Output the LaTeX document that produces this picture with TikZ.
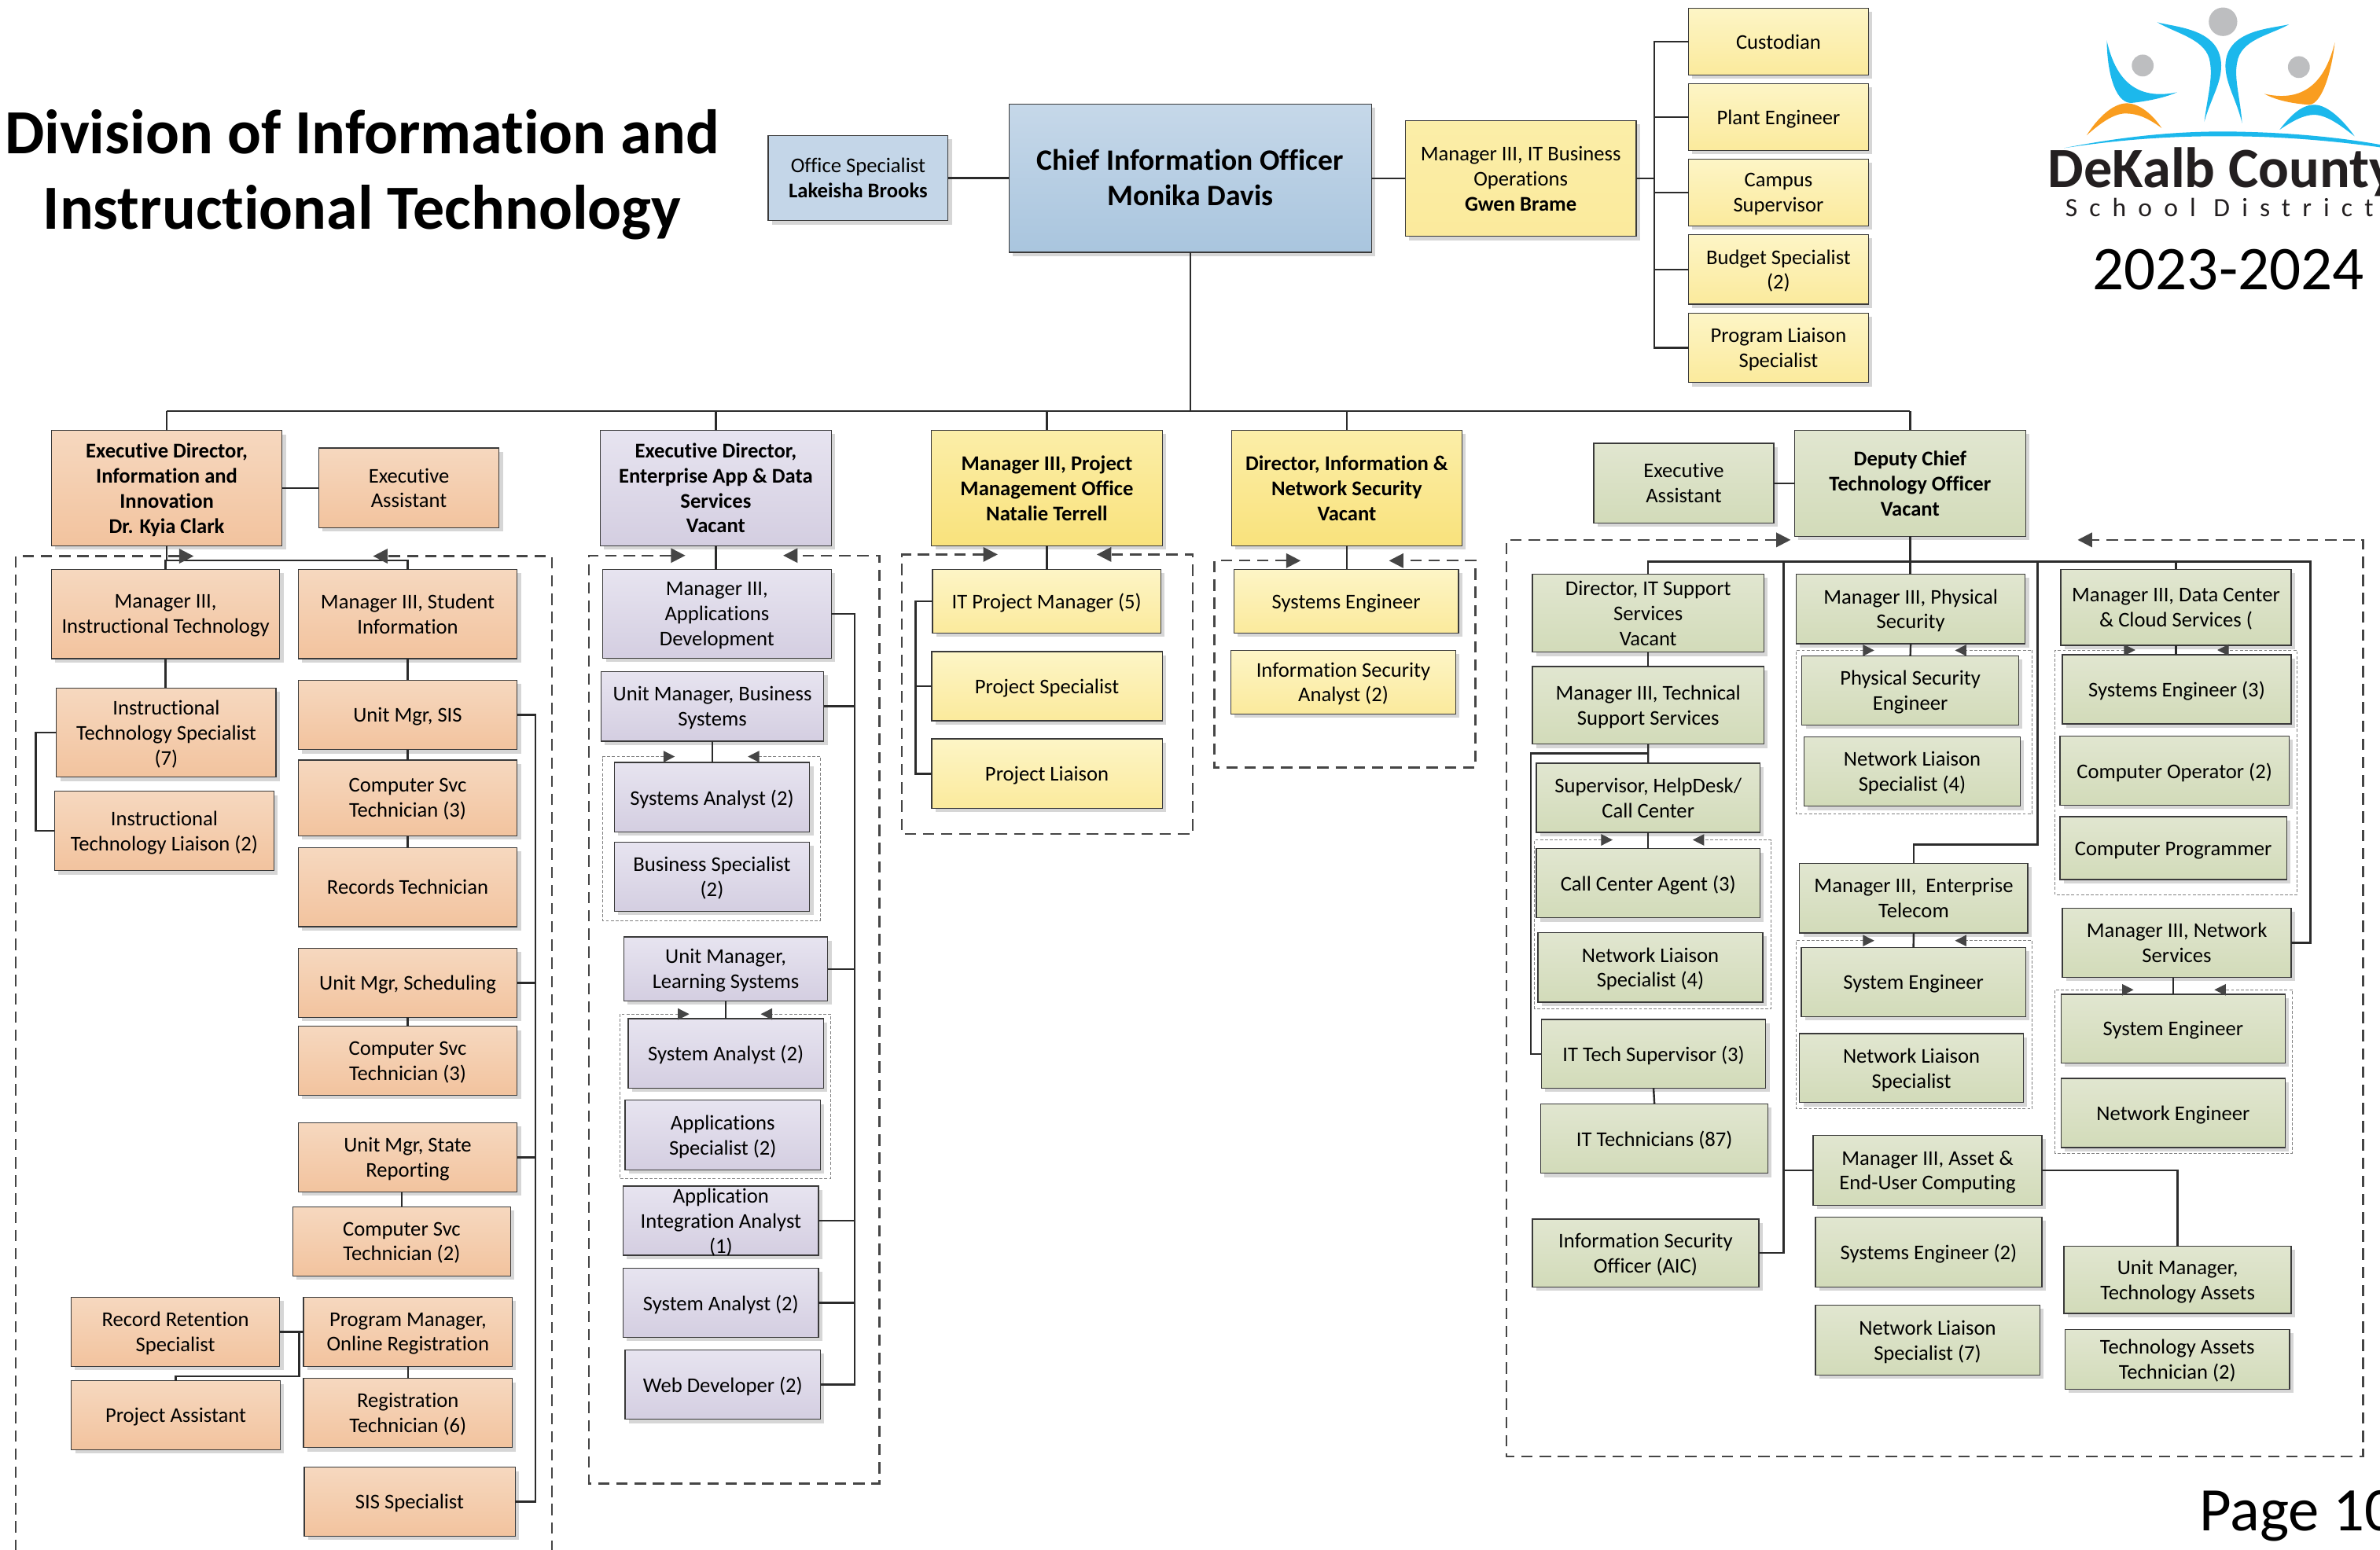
\documentclass[tikz,border=0pt]{standalone}
\usepackage{fontspec}
\setmainfont[Ligatures=NoCommon]{Carlito}
\newfontfamily\spacedfont[LetterSpace=45]{Carlito}
\usetikzlibrary{arrows.meta,shadows}

\definecolor{tantop}{HTML}{F6D8BF}
\definecolor{tanbot}{HTML}{F2C39E}
\definecolor{purpletop}{HTML}{E7E4F0}
\definecolor{purplebot}{HTML}{D4CEE1}
\definecolor{paletop}{HTML}{FDF5C6}
\definecolor{palebot}{HTML}{FBEA9C}
\definecolor{goldtop}{HTML}{FBEEA8}
\definecolor{goldbot}{HTML}{F9E27C}
\definecolor{greentop}{HTML}{E1E6D0}
\definecolor{greenbot}{HTML}{D2DBB9}
\definecolor{bluetop}{HTML}{C6D8E9}
\definecolor{bluebot}{HTML}{A9C5DE}
\definecolor{officeblue}{HTML}{C4D6E8}
\definecolor{edgegray}{HTML}{3A3A3A}
\definecolor{linegray}{HTML}{2B2B2B}
\definecolor{framegray}{HTML}{454545}
\definecolor{logoblue}{HTML}{1CB8EC}
\definecolor{logoorange}{HTML}{F99D1F}
\definecolor{logogray}{HTML}{BDBEC0}
\definecolor{logoink}{HTML}{231F20}

\newcommand{\boxfont}{\fontsize{13.8}{16.5}\selectfont}

\tikzset{
    orgbox/.style={draw=edgegray, line width=.7pt, anchor=north west, inner sep=0pt, outer sep=0pt,
        align=center, font=\boxfont, text=black, text depth=-2pt, execute at begin node={\rule{0pt}{9.5pt}},
        drop shadow={shadow xshift=2.5pt, shadow yshift=-2.5pt, fill=black, opacity=.16}},
    boxsize/.style 2 args={minimum width=#1pt, minimum height=#2pt},
    tanbox/.style={orgbox, top color=tantop, bottom color=tanbot},
    purplebox/.style={orgbox, top color=purpletop, bottom color=purplebot},
    palebox/.style={orgbox, top color=paletop, bottom color=palebot},
    goldbox/.style={orgbox, top color=goldtop, bottom color=goldbot},
    greenbox/.style={orgbox, top color=greentop, bottom color=greenbot},
    boldface/.style={font=\boxfont\bfseries},
    link/.style={draw=linegray, line width=1.25pt},
    groupframe/.style={draw=framegray, line width=1.2pt, dash pattern=on 7.5pt off 4.5pt,
        {Triangle[length=9.5pt,width=9.5pt]}-{Triangle[length=9.5pt,width=9.5pt]}},
    innerframe/.style={draw=gray, line width=.5pt, dash pattern=on 2pt off 1.2pt,
        {Triangle[length=7.5pt,width=7.5pt,color=framegray]}-{Triangle[length=7.5pt,width=7.5pt,color=framegray]}},
}

\begin{document}
\begin{tikzpicture}[x=1pt,y=-1pt]
    \clip (0,0) rectangle (1568,1021);

    \node[font=\fontsize{41.4}{50}\selectfont\bfseries, align=center] (title) at (238.5,115) {Division of Information and\\Instructional Technology};
    \node[font=\fontsize{41}{48}\selectfont, anchor=base west, inner sep=0pt] (years) at (1378.5,190.8) {2023-2024};
    \node[font=\fontsize{40.8}{48}\selectfont, anchor=base west, inner sep=0pt] (page) at (1449,1008.6) {Page 10};

    \begin{scope}[shift={(1295,0)}, x=0.1741pt, y=-0.1727pt]
        \fill[logogray] (974,83) circle (9.4pt);
        \fill[logogray] (670,250) circle (7.2pt);
        \fill[logogray] (1261,256) circle (7.2pt);
        \fill[logoblue] (725,85) .. controls (800,105) and (965,110) .. (967,250) .. controls (967,320) and (930,370) .. (903,465) .. controls (915,370) and (935,300) .. (925,240) .. controls (915,150) and (800,130) .. (725,85) -- cycle;
        \fill[logoblue] (1224,93) .. controls (1150,110) and (985,115) .. (983,250) .. controls (983,320) and (1025,380) .. (1046,470) .. controls (1040,380) and (1015,300) .. (1027,240) .. controls (1040,150) and (1150,135) .. (1224,93) -- cycle;
        \fill[logoblue] (534,155) .. controls (560,270) and (620,390) .. (800,352) .. controls (760,370) and (700,385) .. (625,393) .. controls (560,390) and (535,260) .. (534,155) -- cycle;
        \fill[logoorange] (458,516) .. controls (500,450) and (555,395) .. (610,394) .. controls (660,395) and (710,440) .. (742,489) .. controls (690,450) and (650,433) .. (605,433) .. controls (560,433) and (510,470) .. (458,516) -- cycle;
        \fill[logoorange] (1397,162) .. controls (1370,270) and (1310,400) .. (1130,358) .. controls (1180,385) and (1240,395) .. (1300,400) .. controls (1350,395) and (1385,270) .. (1397,162) -- cycle;
        \fill[logoblue] (1188,495) .. controls (1230,440) and (1270,400) .. (1320,400) .. controls (1370,400) and (1430,460) .. (1472,520) .. controls (1420,480) and (1370,440) .. (1320,438) .. controls (1280,438) and (1240,460) .. (1188,495) -- cycle;
        \fill[logoblue] (372,565) .. controls (600,520) and (800,500) .. (1000,502) .. controls (1250,505) and (1450,530) .. (1568,552) -- (1568,562) .. controls (1300,525) and (1100,520) .. (1000,520) .. controls (800,518) and (600,530) .. (372,565) -- cycle;
    \end{scope}
    \node[font=\fontsize{37.5}{40}\selectfont\bfseries, text=logoink, anchor=base west, inner sep=0pt] (logoname) at (1349,123.5) {DeKalb County};
    \node[font=\fontsize{17.4}{20}\selectfont\spacedfont, text=logoink, anchor=base west, inner sep=0pt] (logosub) at (1360.5,142.5) {School District};

    \node[orgbox, boxsize={118.5}{56}, fill=officeblue] (office) at (506.1,89.4) {Office Specialist\\\textbf{Lakeisha Brooks}};
    \node[orgbox, boxsize={238.8}{97.8}, top color=bluetop, bottom color=bluebot, text depth=1pt, font=\fontsize{19.5}{23.5}\selectfont\bfseries] (cio) at (664.8,68.5) {Chief Information Officer\\Monika Davis};
    \node[goldbox, bottom color=palebot, boxsize={152}{76.4}] (mgrBusiness) at (925.9,79.4) {Manager III, IT Business\\Operations\\\textbf{Gwen Brame}};
    \node[palebox, boxsize={118.6}{44}] (custodian) at (1112.4,5.5) {Custodian};
    \node[palebox, boxsize={118.6}{44}] (plantEng) at (1112.4,55.2) {Plant Engineer};
    \node[palebox, boxsize={118.6}{44}] (campusSup) at (1112.4,104.9) {Campus\\Supervisor};
    \node[palebox, boxsize={118.6}{45.9}] (budgetSpec) at (1112.4,154.6) {Budget Specialist\\(2)};
    \node[palebox, boxsize={118.6}{45.6}] (programLiaison) at (1112.4,206.5) {Program Liaison\\Specialist};

    \node[tanbox, boldface, boxsize={151.9}{75.9}] (execClark) at (33.9,283.7) {Executive Director,\\Information and\\Innovation\\Dr. Kyia Clark};
    \node[tanbox, boxsize={118.8}{52.5}] (clarkAsst) at (210,295.3) {Executive\\Assistant};
    \node[tanbox, boxsize={150.4}{58.7}] (mgrInstr) at (33.9,375.3) {Manager III,\\Instructional Technology};
    \node[tanbox, boxsize={144.2}{58.7}] (mgrStudent) at (196.5,375.3) {Manager III, Student\\Information};
    \node[tanbox, boxsize={144.7}{58.7}] (instrSpec) at (37.2,453.5) {Instructional\\Technology Specialist\\(7)};
    \node[tanbox, boxsize={144.7}{52.3}] (instrLiaison) at (35.9,521.5) {Instructional\\Technology Liaison (2)};
    \node[tanbox, boxsize={144.2}{45.8}] (unitSIS) at (196.5,448.2) {Unit Mgr, SIS};
    \node[tanbox, boxsize={144.2}{50}] (compSvcA) at (196.5,500.9) {Computer Svc\\Technician (3)};
    \node[tanbox, boxsize={144.2}{52.3}] (recordsTech) at (196.5,558.5) {Records Technician};
    \node[tanbox, boxsize={144.2}{45.6}] (unitSched) at (196.5,624.9) {Unit Mgr, Scheduling};
    \node[tanbox, boxsize={144.2}{45.3}] (compSvcB) at (196.5,676.4) {Computer Svc\\Technician (3)};
    \node[tanbox, boxsize={144.2}{45.6}] (unitState) at (196.5,740) {Unit Mgr, State\\Reporting};
    \node[tanbox, boxsize={143.7}{45.6}] (compSvcC) at (192.8,795.3) {Computer Svc\\Technician (2)};
    \node[tanbox, boxsize={137.5}{45.6}] (recordRet) at (46.8,854.9) {Record Retention\\Specialist};
    \node[tanbox, boxsize={137.5}{45.6}] (progMgr) at (200,854.9) {Program Manager,\\Online Registration};
    \node[tanbox, boxsize={137.6}{45.4}] (projAsst) at (47,909.9) {Project Assistant};
    \node[tanbox, boxsize={137.5}{45.6}] (regTech) at (200,908.4) {Registration\\Technician (6)};
    \node[tanbox, boxsize={139}{45.3}] (sisSpec) at (200.4,967) {SIS Specialist};

    \node[purplebox, boldface, boxsize={152.2}{76}] (execApps) at (395.5,283.6) {Executive Director,\\Enterprise App \& Data\\Services\\Vacant};
    \node[purplebox, boxsize={150.7}{58.5}] (mgrApps) at (397,375.3) {Manager III,\\Applications\\Development};
    \node[purplebox, boxsize={146.7}{45.8}] (unitBiz) at (396,442.6) {Unit Manager, Business\\Systems};
    \node[purplebox, boxsize={128.7}{45.8}] (sysAnalystA) at (404.7,502.5) {Systems Analyst (2)};
    \node[purplebox, boxsize={128.7}{45.6}] (bizSpec) at (404.7,555) {Business Specialist\\(2)};
    \node[purplebox, boxsize={134.3}{42.1}] (unitLearn) at (411,617.5) {Unit Manager,\\Learning Systems};
    \node[purplebox, boxsize={128.6}{45.7}] (sysAnalystB) at (413.9,671.3) {System Analyst (2)};
    \node[purplebox, boxsize={128.8}{45.8}] (appSpec) at (411.8,725.1) {Applications\\Specialist (2)};
    \node[purplebox, boxsize={128.7}{45.6}] (appInt) at (410.6,781.6) {\smash{\parbox[c]{128pt}{\centering Application\\Integration Analyst\\(1)}}};
    \node[purplebox, boxsize={128.7}{45.6}] (sysAnalystC) at (410.6,835.7) {System Analyst (2)};
    \node[purplebox, boxsize={128.8}{45.8}] (webDev) at (411.8,889.6) {Web Developer (2)};

    \node[goldbox, boldface, boxsize={152}{76.2}] (mgrProject) at (613.7,283.5) {Manager III, Project\\Management Office\\Natalie Terrell};
    \node[palebox, boxsize={150.6}{41.9}] (itProjMgr) at (614.3,375.3) {IT Project Manager (5)};
    \node[palebox, boxsize={151.9}{45.6}] (projSpec) at (613.8,429.4) {Project Specialist};
    \node[palebox, boxsize={151.9}{45.8}] (projLiaison) at (613.8,487) {Project Liaison};

    \node[goldbox, boldface, boxsize={152}{76.2}] (dirInfo) at (811.3,283.5) {Director, Information \&\\Network Security\\Vacant};
    \node[palebox, boxsize={148}{42}] (sysEngInfo) at (812.9,375.2) {Systems Engineer};
    \node[palebox, boxsize={148}{41.9}] (infoAnalyst) at (811,428.6) {Information Security\\Analyst (2)};

    \node[greenbox, boxsize={118.6}{52.6}] (deputyAsst) at (1050,292.1) {Executive\\Assistant};
    \node[greenbox, boldface, boxsize={152.2}{70}] (deputy) at (1182.3,283.5) {Deputy Chief\\Technology Officer\\Vacant};
    \node[greenbox, boxsize={152.7}{51.4}] (dirIT) at (1009.5,378.4) {Director, IT Support\\Services\\Vacant};
    \node[greenbox, boxsize={152.7}{51.1}] (mgrTech) at (1009.5,439.3) {Manager III, Technical\\Support Services};
    \node[greenbox, boxsize={147.5}{45.7}] (supervisor) at (1012.1,502.9) {Supervisor, HelpDesk/\\Call Center};
    \node[greenbox, boxsize={147.5}{45.6}] (callAgent) at (1012.1,559.3) {Call Center Agent (3)};
    \node[greenbox, boxsize={148.2}{45.8}] (netLiaisonA) at (1013.2,614.6) {Network Liaison\\Specialist (4)};
    \node[greenbox, boxsize={147.8}{45.2}] (itSupervisor) at (1015.5,671.9) {IT Tech Supervisor (3)};
    \node[greenbox, boxsize={149.7}{45.7}] (itTechs) at (1015.1,727.5) {IT Technicians (87)};
    \node[greenbox, boxsize={149.3}{44.6}] (infoOfficer) at (1009.5,803.5) {Information Security\\Officer (AIC)};
    \node[greenbox, boxsize={150.8}{45.8}] (mgrPhys) at (1183.4,378.4) {Manager III, Physical\\Security};
    \node[greenbox, boxsize={142.9}{45.6}] (physEng) at (1187.1,432.3) {Physical Security\\Engineer};
    \node[greenbox, boxsize={142.4}{45.8}] (netLiaisonB) at (1188.6,485.5) {Network Liaison\\Specialist (4)};
    \node[greenbox, boxsize={150.4}{45.8}] (mgrEnt) at (1185.6,569) {Manager III,~ Enterprise\\Telecom};
    \node[greenbox, boxsize={147.8}{45.6}] (sysEngEnt) at (1186.7,624.5) {System Engineer};
    \node[greenbox, boxsize={147.4}{45.4}] (netLiaisonC) at (1185.6,681.2) {Network Liaison\\Specialist};
    \node[greenbox, boxsize={150.8}{45.9}] (mgrAsset) at (1194.5,748.3) {Manager III, Asset \&\\End-User Computing};
    \node[greenbox, boxsize={149.3}{45.9}] (sysEngAsset) at (1196,802.2) {Systems Engineer (2)};
    \node[greenbox, boxsize={147.8}{46.2}] (netLiaisonD) at (1196,860) {Network Liaison\\Specialist (7)};
    \node[greenbox, boxsize={151.9}{50}] (mgrData) at (1357.6,375.2) {Manager III, Data Center\\\& Cloud Services (};
    \node[greenbox, boxsize={150.8}{45.6}] (sysEngData) at (1358.7,431.4) {Systems Engineer (3)};
    \node[greenbox, boxsize={150.8}{45.6}] (compOp) at (1357.2,485) {Computer Operator (2)};
    \node[greenbox, boxsize={149.3}{41.4}] (compProg) at (1357.2,538.2) {Computer Programmer};
    \node[greenbox, boxsize={150.8}{45.6}] (mgrNet) at (1358.7,598.6) {Manager III, Network\\Services};
    \node[greenbox, boxsize={147.4}{45.3}] (sysEngNet) at (1358,655.3) {System Engineer};
    \node[greenbox, boxsize={147.4}{45.7}] (netEng) at (1358,710.6) {Network Engineer};
    \node[greenbox, boxsize={149.7}{44.3}] (unitAssets) at (1359.8,821.3) {Unit Manager,\\Technology Assets};
    \node[greenbox, boxsize={147.8}{39.3}] (assetTech) at (1360.6,876.2) {Technology Assets\\Technician (2)};

    \coordinate (topbar) at (0,271);
    \coordinate (bizbus) at (1090,0);
    \coordinate (clarkbar) at (0,369.3);
    \coordinate (instrbus) at (23.5,0);
    \coordinate (studentbus) at (352.8,0);
    \coordinate (retdrop) at (197.2,906.9);
    \coordinate (appsbus) at (563,0);
    \coordinate (projbus) at (603.2,0);
    \coordinate (deputybar) at (0,370.1);
    \coordinate (techbar) at (0,496.6);
    \coordinate (techbus) at (1008.4,0);
    \coordinate (assetbus) at (1175,0);
    \coordinate (entbend) at (1342.3,556.5);
    \coordinate (netbus) at (1522.2,0);

    \draw[link] (office.east |- cio.west) -- (cio.west);
    \draw[link] (cio.east |- mgrBusiness.west) -- (mgrBusiness.west);
    \draw[link] (cio.south) -- (cio.south |- topbar);
    \draw[link] (execClark.north |- topbar) -- (deputy.north |- topbar);
    \draw[link] (execClark.north |- topbar) -- (execClark.north);
    \draw[link] (execApps.north |- topbar) -- (execApps.north);
    \draw[link] (mgrProject.north |- topbar) -- (mgrProject.north);
    \draw[link] (dirInfo.north |- topbar) -- (dirInfo.north);
    \draw[link] (deputy.north |- topbar) -- (deputy.north);

    \draw[link] (mgrBusiness.east) -- (mgrBusiness.east -| bizbus);
    \draw[link] (custodian.west) -- (custodian.west -| bizbus) -- (programLiaison.west -| bizbus) -- (programLiaison.west);
    \draw[link] (plantEng.west) -- (plantEng.west -| bizbus);
    \draw[link] (campusSup.west) -- (campusSup.west -| bizbus);
    \draw[link] (budgetSpec.west) -- (budgetSpec.west -| bizbus);

    \draw[link] (execClark.east) -- (clarkAsst.west |- execClark.east);
    \draw[link] (execClark.south) -- (execClark.south |- clarkbar);
    \draw[link] (mgrInstr.north) -- (mgrInstr.north |- clarkbar) -- (mgrStudent.north |- clarkbar) -- (mgrStudent.north);
    \draw[link] (mgrInstr.south) -- (mgrInstr.south |- instrSpec.north);
    \draw[link] (instrSpec.west) -- (instrSpec.west -| instrbus) -- (instrLiaison.west -| instrbus) -- (instrLiaison.west);
    \draw[link] (mgrStudent.south) -- (unitSIS.north);
    \draw[link] (unitSIS.south) -- (compSvcA.north);
    \draw[link] (compSvcA.south) -- (recordsTech.north);
    \draw[link] (unitSched.south) -- (compSvcB.north);
    \draw[link] (compSvcC.north) -- (compSvcC.north |- unitState.south);
    \draw[link] (unitSIS.east) -- (unitSIS.east -| studentbus) -- (sisSpec.east -| studentbus) -- (sisSpec.east);
    \draw[link] (unitSched.east) -- (unitSched.east -| studentbus);
    \draw[link] (unitState.east) -- (unitState.east -| studentbus);
    \draw[link] (recordRet.east) -- (progMgr.west);
    \draw[link] (retdrop |- recordRet.east) -- (retdrop) -- (retdrop -| projAsst.north) -- (projAsst.north);
    \draw[link] (progMgr.south) -- (regTech.north);

    \draw[link] (execApps.south) -- (execApps.south |- mgrApps.north);
    \draw[link] (mgrApps.east) -- (mgrApps.east -| appsbus) -- (webDev.east -| appsbus) -- (webDev.east);
    \draw[link] (unitBiz.east) -- (unitBiz.east -| appsbus);
    \draw[link] (unitLearn.east) -- (unitLearn.east -| appsbus);
    \draw[link] (appInt.east) -- (appInt.east -| appsbus);
    \draw[link] (sysAnalystC.east) -- (sysAnalystC.east -| appsbus);
    \draw[link] (unitBiz.south) -- (sysAnalystA.north -| unitBiz.south);
    \draw[link] (unitLearn.south) -- (sysAnalystB.north -| unitLearn.south);

    \draw[link] (mgrProject.south) -- (mgrProject.south |- itProjMgr.north);
    \draw[link] (itProjMgr.west) -- (itProjMgr.west -| projbus) -- (projLiaison.west -| projbus) -- (projLiaison.west);
    \draw[link] (projSpec.west) -- (projSpec.west -| projbus);

    \draw[link] (dirInfo.south) -- (dirInfo.south |- sysEngInfo.north);

    \draw[link] (deputyAsst.east |- deputy.west) -- (deputy.west);
    \draw[link] (deputy.south) -- (deputy.south |- mgrPhys.north);
    \draw[link] (dirIT.north) -- (dirIT.north |- deputybar) -- (deputybar -| netbus) -- (mgrNet.east -| netbus) -- (mgrNet.east);
    \draw[link] (mgrData.north) -- (mgrData.north |- deputybar);
    \draw[link] (dirIT.south) -- (mgrTech.north);
    \draw[link] (mgrTech.south) -- (supervisor.north);
    \draw[link] (mgrTech.south |- techbar) -- (techbar -| techbus) -- (itSupervisor.west -| techbus) -- (itSupervisor.west);
    \draw[link] (supervisor.south) -- (callAgent.north);
    \draw[link] (itSupervisor.south) -- (itTechs.north);
    \draw[link] (mgrPhys.south) -- (physEng.north);
    \draw[link] (entbend |- deputybar) -- (entbend) -- (entbend -| mgrEnt.north) -- (mgrEnt.north);
    \draw[link] (mgrEnt.south) -- (sysEngEnt.north);
    \draw[link] (mgrData.south) -- (mgrData.south |- sysEngData.north);
    \draw[link] (sysEngNet.north) -- (sysEngNet.north |- mgrNet.south);
    \draw[link] (assetbus |- deputybar) -- (mgrAsset.west -| assetbus) -- (mgrAsset.west);
    \draw[link] (mgrAsset.west -| assetbus) -- (infoOfficer.east -| assetbus) -- (infoOfficer.east);
    \draw[link] (mgrAsset.east) -- (mgrAsset.east -| unitAssets.north) -- (unitAssets.north);

    \draw[groupframe] (127.6,366.5) -- (10.4,366.5) -- (10.4,1040) -- (363.5,1040) -- (363.5,366.5) -- (245.8,366.5);
    \draw[groupframe] (451.5,366.1) -- (388,366.1) -- (388,977.7) -- (579.4,977.7) -- (579.4,366.1) -- (516,366.1);
    \draw[groupframe] (657.3,365.4) -- (594.2,365.4) -- (594.2,549.7) -- (785.8,549.7) -- (785.8,365.4) -- (722.6,365.4);
    \draw[groupframe] (856.9,369.5) -- (800,369.5) -- (800,505.9) -- (972.1,505.9) -- (972.1,369.5) -- (915.1,369.5);
    \draw[groupframe] (1179.7,355.8) -- (992.4,355.8) -- (992.4,959.8) -- (1556.8,959.8) -- (1556.8,355.8) -- (1368.8,355.8);

    \draw[innerframe] (444.6,498.6) -- (397,498.6) -- (397,606.6) -- (540.5,606.6) -- (540.5,498.6) -- (492.7,498.6);
    \draw[innerframe] (454.1,668.3) -- (408.2,668.3) -- (408.2,776.5) -- (547.2,776.5) -- (547.2,668.3) -- (501.2,668.3);
    \draw[innerframe] (1062.4,553.5) -- (1011,553.5) -- (1011,664.7) -- (1167,664.7) -- (1167,553.5) -- (1115.2,553.5);
    \draw[innerframe] (1234.8,428.6) -- (1183.4,428.6) -- (1183.4,536.2) -- (1339,536.2) -- (1339,428.6) -- (1288,428.6);
    \draw[innerframe] (1234.8,619.9) -- (1183.4,619.9) -- (1183.4,730.8) -- (1339,730.8) -- (1339,619.9) -- (1288,619.9);
    \draw[innerframe] (1406.8,428.4) -- (1353.9,428.4) -- (1353.9,589.8) -- (1513.2,589.8) -- (1513.2,428.4) -- (1460.8,428.4);
    \draw[innerframe] (1405.6,652.3) -- (1353.9,652.3) -- (1353.9,759.9) -- (1510.3,759.9) -- (1510.3,652.3) -- (1458.9,652.3);
\end{tikzpicture}
\end{document}
